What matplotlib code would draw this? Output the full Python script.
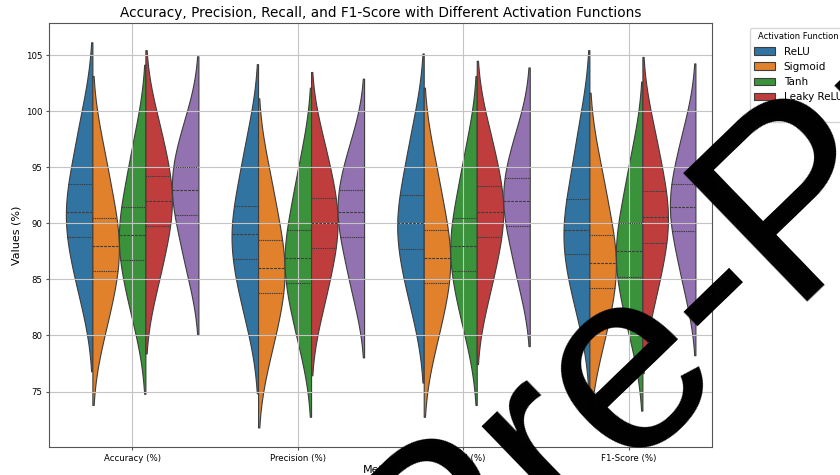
import matplotlib
matplotlib.use("Agg")
import matplotlib.pyplot as plt
import pandas as pd
import seaborn as sns

activations = ["ReLU", "Sigmoid", "Tanh", "Leaky ReLU", "Swish"]
metrics = ["Accuracy (%)", "Precision (%)", "Recall (%)", "F1-Score (%)"]

# five runs per activation function and metric (values in %)
relu_accuracy = [84.43, 88.75, 91.0, 93.5, 98.52]
relu_precision = [82.48, 86.8, 89.05, 91.55, 96.57]
relu_recall = [83.43, 87.75, 90.0, 92.5, 97.52]
relu_f1 = [83.11, 87.25, 89.45, 92.15, 97.59]

sigmoid_accuracy = [81.43, 85.75, 88.0, 90.5, 95.52]
sigmoid_precision = [79.43, 83.75, 86.0, 88.5, 93.52]
sigmoid_recall = [80.38, 84.7, 86.95, 89.45, 94.47]
sigmoid_f1 = [79.93, 84.25, 86.5, 89.0, 94.02]

tanh_accuracy = [82.43, 86.75, 89.0, 91.5, 96.52]
tanh_precision = [80.38, 84.7, 86.95, 89.45, 94.47]
tanh_recall = [81.43, 85.75, 88.0, 90.5, 95.52]
tanh_f1 = [80.93, 85.25, 87.5, 90.0, 95.02]

leaky_accuracy = [85.44, 89.75, 91.95, 94.25, 98.41]
leaky_precision = [83.49, 87.8, 90.0, 92.3, 96.46]
leaky_recall = [84.49, 88.8, 91.0, 93.3, 97.46]
leaky_f1 = [83.97, 88.28, 90.54, 92.88, 97.51]

swish_accuracy = [86.53, 90.75, 93.0, 95.0, 98.42]
swish_precision = [84.53, 88.75, 91.0, 93.0, 96.42]
swish_recall = [85.53, 89.75, 92.0, 94.0, 97.42]
swish_f1 = [85.0, 89.3, 91.5, 93.5, 97.5]

results = {
    "ReLU": [relu_accuracy, relu_precision, relu_recall, relu_f1],
    "Sigmoid": [sigmoid_accuracy, sigmoid_precision, sigmoid_recall, sigmoid_f1],
    "Tanh": [tanh_accuracy, tanh_precision, tanh_recall, tanh_f1],
    "Leaky ReLU": [leaky_accuracy, leaky_precision, leaky_recall, leaky_f1],
    "Swish": [swish_accuracy, swish_precision, swish_recall, swish_f1],
}

rows = []
for act in activations:
    for metric, values in zip(metrics, results[act]):
        for v in values:
            rows.append({"Activation Function": act, "Metric": metric, "Value": v})
df = pd.DataFrame(rows)

fig, ax = plt.subplots(figsize=(8.4, 4.75), dpi=100)
fig.subplots_adjust(left=0.0587, right=0.8476, bottom=0.0596, top=0.9516)

sns.violinplot(data=df, x="Metric", y="Value", hue="Activation Function",
               order=metrics, hue_order=activations,
               split=True, inner="quart", linewidth=0.8, ax=ax)

ax.grid(True, color="#c4c4c4", linewidth=0.8)
ax.set_title("Accuracy, Precision, Recall, and F1-Score with Different Activation Functions",
             fontsize=9.8, pad=4)
ax.set_xlabel("Metric", fontsize=8, labelpad=2)
ax.set_ylabel("Values (%)", fontsize=8, labelpad=3)
ax.tick_params(labelsize=6.2, length=2, pad=3, color="#555555")
for s in ax.spines.values():
    s.set_color("#555555")
    s.set_linewidth(0.8)

sns.move_legend(ax, "upper left", bbox_to_anchor=(1.05, 1), title="Activation Function",
                fontsize=7.5, title_fontsize=6, frameon=True)

# watermark stamped across the figure
fig.text(0.518, -0.351, "Pre-Print", fontsize=187, family="Liberation Sans",
         rotation=44, rotation_mode="anchor", ha="left", va="baseline",
         color="black", zorder=10)

fig.savefig("out.png", dpi=100)
